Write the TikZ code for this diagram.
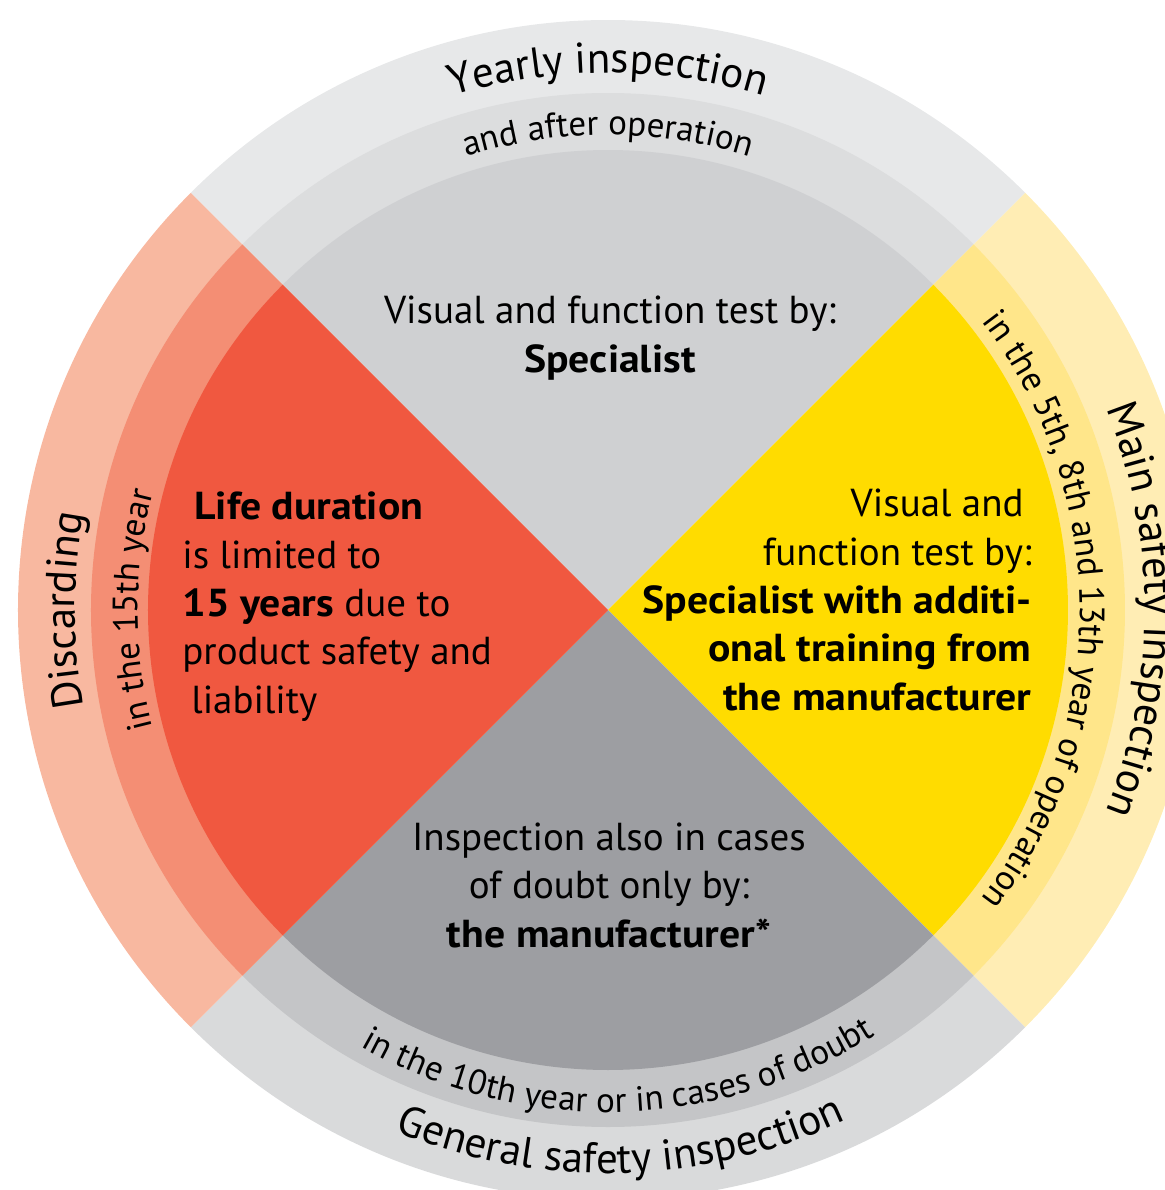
\documentclass[tikz,border=0pt]{standalone}
\usepackage{fontspec}
\setmainfont{PT Sans}[BoldFeatures={FakeStretch=1.07}]
\usetikzlibrary{decorations.text}

\definecolor{yearlyOuter}{RGB}{231,232,233}
\definecolor{yearlyMiddle}{RGB}{220,221,222}
\definecolor{yearlyInner}{RGB}{207,208,210}
\definecolor{mainOuter}{RGB}{255,237,180}
\definecolor{mainMiddle}{RGB}{255,230,138}
\definecolor{mainInner}{RGB}{255,220,0}
\definecolor{generalOuter}{RGB}{217,218,219}
\definecolor{generalMiddle}{RGB}{196,197,199}
\definecolor{generalInner}{RGB}{157,158,162}
\definecolor{discardOuter}{RGB}{248,184,160}
\definecolor{discardMiddle}{RGB}{244,142,116}
\definecolor{discardInner}{RGB}{240,88,64}

\newcommand\outerfont{\fontsize{21.5}{21.5}\selectfont}
\newcommand\ringfont{\fontsize{17.5}{17.5}\selectfont}

\tikzset{
  ringtext/.style={%
    decorate,
    decoration={text along path, text align=center, text={#1}},
  },
  midtext/.style={%
    font=\fontsize{19.5}{24.15}\selectfont,
    inner sep=0pt,
  }
}
% one quarter of the wheel: mid angle, then colours from outside to inside
\newcommand\Quarter[4]{%
  \foreach \r/\c in {590/#2, 517/#3, 460/#4}
    \fill[\c] (0,0) -- (#1-45:\r) arc[start angle=#1-45, end angle=#1+45, radius=\r] -- cycle;
}

\begin{document}
\begin{tikzpicture}[x=0.5pt, y=0.5pt]
    \useasboundingbox (-608,-580) rectangle (557,610);
    \clip (-608,-580) rectangle (557,610);
    \Quarter{90}{yearlyOuter}{yearlyMiddle}{yearlyInner}
    \Quarter{0}{mainOuter}{mainMiddle}{mainInner}
    \Quarter{270}{generalOuter}{generalMiddle}{generalInner}
    \Quarter{180}{discardOuter}{discardMiddle}{discardInner}
    % labels on the rings
    \path[ringtext={|\outerfont|Yearly inspection}] (150:537) arc[start angle=150, end angle=30, radius=537];
    \path[ringtext={|\ringfont|and after operation}] (150:475) arc[start angle=150, end angle=30, radius=475];
    \path[ringtext={|\outerfont|Main safety inspection}] (60:537) arc[start angle=60, end angle=-60, radius=537];
    \path[ringtext={|\ringfont|in the 5th, 8th and 13th year of operation}] (60:472) arc[start angle=60, end angle=-60, radius=472];
    \path[ringtext={|\outerfont|General safety inspection}] (201.4:563) arc[start angle=201.4, end angle=341.4, radius=563];
    \path[ringtext={|\ringfont|in the 10th year or in cases of doubt}] (201.3:502) arc[start angle=201.3, end angle=341.3, radius=502];
    \path[ringtext={|\outerfont|Discarding}] (240:533) arc[start angle=240, end angle=120, radius=533];
    \path[ringtext={|\ringfont|in the 15th year}] (240:470) arc[start angle=240, end angle=120, radius=470];
    % texts in the quarters (anchored on their last line)
    \node (yearly) [midtext, align=center, anchor=base] at (2,238)
        {Visual and function test by:\\ \textbf{Specialist}};
    \node (main) [midtext, align=right, anchor=base east] at (424,-100)
        {Visual and\hspace*{4pt}\\ function test by:\\ \textbf{Specialist with additi-}\\
         \textbf{onal training from}\\ \textbf{the manufacturer}};
    \node (general) [midtext, align=center, anchor=base] at (1,-337)
        {Inspection also in cases\\ of doubt only by:\\ \textbf{the manufacturer*}};
    \node (discard) [midtext, align=left, anchor=base west] at (-426,-103)
        {\hspace*{6pt}\textbf{Life duration}\\ is limited to\\ \textbf{15 years} due to\\
         product safety and\\ \hspace*{4.5pt}liability};
\end{tikzpicture}
\end{document}
